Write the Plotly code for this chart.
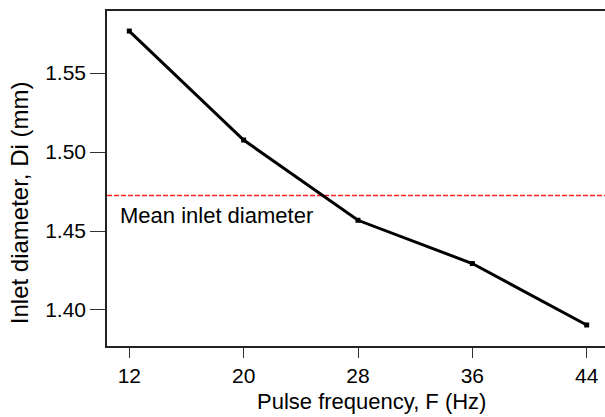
import plotly.graph_objects as go

freq = [12, 20, 28, 36, 44]
diam = [1.5766, 1.5076, 1.4568, 1.4294, 1.3905]
mean_diam = 1.4725
x_ticks = [12, 20, 28, 36, 44]
y_ticks = [1.40, 1.45, 1.50, 1.55]
y_tick_text = ["1.40", "1.45", "1.50", "1.55"]

FONT = "Liberation Sans, Arial, sans-serif"

fig = go.Figure()
fig.add_trace(go.Scatter(
    x=[10.44, 45.28], y=[mean_diam, mean_diam], mode="lines",
    line=dict(color="#ff2020", width=1.3, dash="5px,2px"),
    showlegend=False, hoverinfo="skip",
))
fig.add_trace(go.Scatter(
    x=freq, y=diam, mode="lines+markers",
    line=dict(color="black", width=3),
    marker=dict(symbol="square", size=5, color="black"),
    showlegend=False,
))
fig.add_annotation(text="Mean inlet diameter", xref="paper", yref="y",
                   x=0.023, y=mean_diam, xanchor="left", yanchor="top",
                   yshift=-6, showarrow=False,
                   font=dict(family=FONT, size=22, color="black"))
fig.add_annotation(text="Pulse frequency, F (Hz)", xref="paper", yref="paper",
                   x=(371 - 107) / 498, y=-(402 - 346) / 335.5,
                   xanchor="center", yanchor="middle", showarrow=False,
                   font=dict(family=FONT, size=22, color="black"))
fig.add_annotation(text="Inlet diameter, Di (mm)", xref="paper", yref="paper",
                   x=-(107 - 19) / 498, y=(346 - 203) / 335.5,
                   xanchor="center", yanchor="middle", showarrow=False,
                   textangle=-90,
                   font=dict(family=FONT, size=24, color="black"))

fig.update_layout(
    width=605, height=417,
    margin=dict(l=107, r=0, t=10.5, b=71),
    paper_bgcolor="white", plot_bgcolor="white",
    font=dict(family=FONT, size=21, color="black"),
    xaxis=dict(range=[10.44, 45.28], tickvals=x_ticks, ticks="outside",
               ticklen=10, tickwidth=1, tickcolor="#333",
               showline=True, linecolor="#222", linewidth=1.5, mirror=True,
               showgrid=False, zeroline=False,
               tickfont=dict(family=FONT, size=21)),
    yaxis=dict(range=[1.3772, 1.5893], tickvals=y_ticks, ticktext=y_tick_text,
               ticks="outside", ticklen=15, tickwidth=1, tickcolor="#333",
               showline=True, linecolor="#222", linewidth=1.5,
               showgrid=False, zeroline=False,
               tickfont=dict(family=FONT, size=21)),
)
fig.write_html("out.html")
